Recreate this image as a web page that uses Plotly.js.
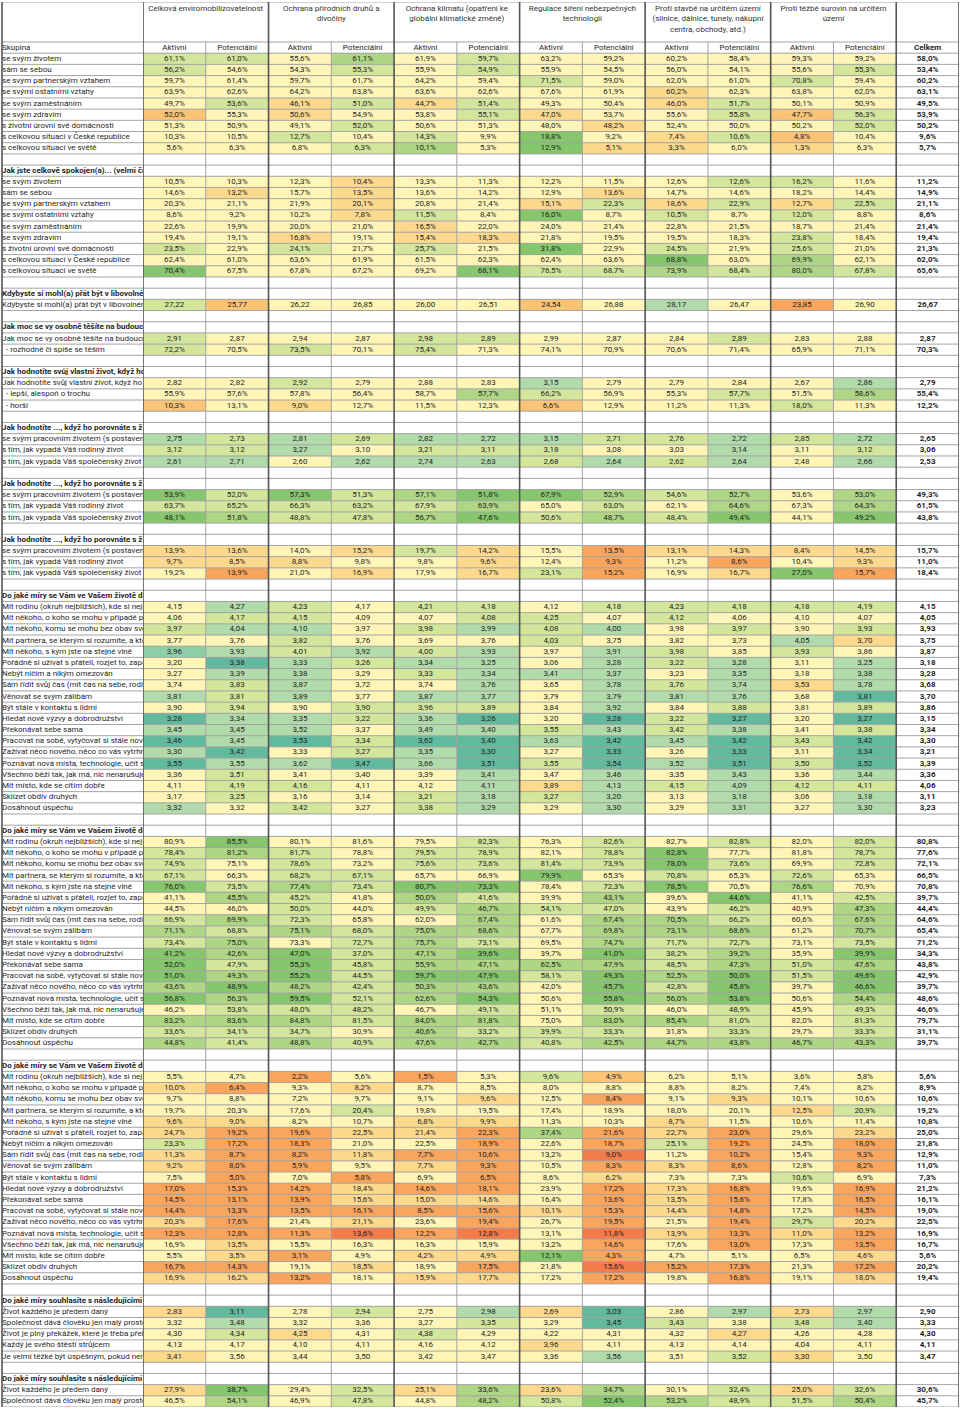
<!DOCTYPE html>
<html><head><meta charset="utf-8">
<script src="https://cdn.plot.ly/plotly-3.0.1.min.js"></script>
<style>html,body{margin:0;padding:0;background:#fff}#chart{width:960px;height:1411px}#err{position:absolute;top:0;left:0;font:12px monospace;color:red;white-space:pre}</style>
</head><body><div id="chart"></div><div id="err"></div><script>
// ---------- header texts ----------
const groupNames = [
  "Celková enviromobilizovatelnost",
  "Ochrana přírodních druhů a<br>divočiny",
  "Ochrana klimatu (opatření ke<br>globální klimatické změně)",
  "Regulace šíření nebezpečných<br>technologií",
  "Proti stavbě na určitém území<br>(silnice, dálnice, tunely, nákupní<br>centra, obchody, atd.)",
  "Proti těžbě surovin na určitém<br>území"
];
const subHeads = ["Aktivní", "Potenciální"];
const firstColHead = "Skupina";
const totalHead = "Celkem";

// ---------- row labels ----------
const satisfLabels = ["se svým životem","sám se sebou","se svým partnerským vztahem","se svými ostatními vztahy","se svým zaměstnáním","se svým zdravím","s životní úrovní své domácnosti","s celkovou situací v České republice","s celkovou situací ve světě"];
const hdrSatisf = "Jak jste celkově spokojen(a)... (velmi či spíše nespokojen)";
const hdrAge = "Kdybyste si mohl(a) přát být v libovolném věku";
const ageLabels = ["Kdybyste si mohl(a) přát být v libovolném věku"];
const hdrFuture = "Jak moc se vy osobně těšíte na budoucnost";
const futureLabels = ["Jak moc se vy osobně těšíte na budoucnost", "  - rozhodně či spíše se těším"];
const hdrOwn = "Jak hodnotíte svůj vlastní život, když ho porovnáte";
const ownLabels = ["Jak hodnotíte svůj vlastní život, když ho porovnáte", "  - lepší, alespoň o trochu", "  - horší"];
const hdrCompare = "Jak hodnotíte ..., když ho porovnáte s životem";
const compareLabels = ["se svým pracovním životem (s postavením)", "s tím, jak vypadá Váš rodinný život", "s tím, jak vypadá Váš společenský život"];
const hdrLife = "Do jaké míry se Vám ve Vašem životě daří";
const lifeLabels = ["Mít rodinu (okruh nejbližších), kde si nejste sám","Mít někoho, o koho se mohu v případě potřeby opřít","Mít někoho, komu se mohu bez obav svěřit","Mít partnera, se kterým si rozumíte, a kterého","Mít někoho, s kým jste na stejné vlně","Pořádně si užívat s přáteli, rozjet to, zapařit","Nebýt ničím a nikým omezován","Sám řídit svůj čas (mít čas na sebe, rodinu)","Věnovat se svým zálibám","Být stále v kontaktu s lidmi","Hledat nové výzvy a dobrodružství","Překonávat sebe sama","Pracovat na sobě, vytyčovat si stále nové cíle","Zažívat něco nového, něco co vás vytrhne","Poznávat nová místa, technologie, učit se","Všechno běží tak, jak má, nic nenarušuje","Mít místo, kde se cítím dobře","Sklízet obdiv druhých","Dosáhnout úspěchu"];
const hdrAgree = "Do jaké míry souhlasíte s následujícími výroky";
const agreeLabels = ["Život každého je předem daný","Společnost dává člověku jen malý prostor","Život je plný překážek, které je třeba překonat","Každý je svého štěstí strůjcem","Je velmi těžké být úspěšným, pokud nemáte"];

// ---------- values (12 group columns + Celkem) ----------
const satisfVals = [
 [61.1,61.0,55.6,61.1,61.9,59.7,63.2,59.2,60.2,58.4,59.3,59.2,58.0],
 [56.2,54.6,54.3,55.3,55.9,54.9,55.9,54.5,56.0,54.1,55.6,55.3,53.4],
 [59.7,61.4,59.7,61.7,64.2,59.4,71.5,59.0,62.0,61.0,70.8,59.4,60.2],
 [63.9,62.6,64.2,63.8,63.6,62.6,67.6,61.9,60.2,62.3,63.8,62.0,63.1],
 [49.7,53.6,46.1,51.0,44.7,51.4,49.3,50.4,46.0,51.7,50.1,50.9,49.5],
 [52.0,55.3,50.6,54.9,53.8,55.1,47.0,53.7,55.6,55.8,47.7,56.3,53.9],
 [51.3,50.9,49.1,52.0,50.6,51.3,48.0,48.2,52.4,50.0,50.2,52.0,50.2],
 [10.3,10.5,12.7,10.4,14.3,9.9,18.8,9.2,7.4,10.6,4.8,10.4,9.6],
 [5.6,6.3,6.8,6.3,10.1,5.3,12.9,5.1,3.3,6.0,1.3,6.3,5.7]
];
const satisfCodes = ["bbycybyyyyyy","byybybyyyyyb","yyyyyybyyyby","yyyyyyyyoyyy","ybobobyyobyy","pyoyyboyybpb","yyybyyyoyyyb","yybybydyobpy","yyybcydooyoy"];

const dissatVals = [
 [10.5,10.3,12.3,10.4,13.3,11.3,12.2,11.5,12.6,12.6,16.2,11.6,11.2],
 [14.6,13.2,15.7,13.5,13.6,14.2,12.9,13.6,14.7,14.6,18.2,14.4,14.9],
 [20.3,21.1,21.9,20.1,20.8,21.4,15.1,22.3,18.6,22.9,12.7,22.5,21.1],
 [8.6,9.2,10.2,7.8,11.5,8.4,16.0,8.7,10.5,8.7,12.0,8.8,8.6],
 [22.6,19.9,20.0,21.0,16.5,22.0,24.0,21.4,22.8,21.5,18.7,21.4,21.4],
 [19.4,19.1,16.8,19.1,15.4,18.3,21.8,19.5,19.5,18.3,23.8,18.4,19.4],
 [23.5,22.9,24.1,21.7,25.7,21.5,31.8,22.9,24.5,21.9,25.6,21.0,21.3],
 [62.4,61.0,63.6,61.9,61.5,62.3,62.4,63.6,68.8,63.0,69.9,62.1,62.0],
 [70.4,67.5,67.8,67.2,69.2,68.1,76.5,68.7,73.9,68.4,80.0,67.8,65.6]
];
const dissatCodes = ["yyyoyyyyybby","yoyoyyyoyyyy","yyyoyyobobob","yyyobydybyby","yyyyoyyyyyyy","yyoyooyyyyby","bybybydybyby","yyyyyyyydycy","dyyyydbbcbcb"];

const ageVals = [[27.22,25.77,26.22,26.85,26.00,26.51,24.54,26.88,28.17,26.47,23.85,26.90,26.67]];
const ageCodes = ["bpyyyypysyqy"];

const futureVals = [
 [2.91,2.87,2.94,2.87,2.98,2.89,2.99,2.87,2.84,2.89,2.83,2.88,2.87],
 [72.2,70.5,73.5,70.1,75.4,71.3,74.1,70.9,70.6,71.4,65.9,71.1,70.3]
];
const futureCodes = ["byyybbyyybyy","bybybyyyyyyy"];

const ownVals = [
 [2.82,2.82,2.92,2.79,2.88,2.83,3.15,2.79,2.79,2.84,2.67,2.86,2.79],
 [55.9,57.6,57.8,56.4,58.7,57.7,66.2,56.9,55.3,57.7,51.5,58.6,55.4],
 [10.3,13.1,9.0,12.7,11.5,12.3,6.6,12.9,11.2,11.3,18.0,11.3,12.2]
];
const ownCodes = ["yybyyysyyyys","yyyyycbyybyc","pyoyyypyyyby"];

const cmpMeanVals = [
 [2.75,2.73,2.81,2.69,2.82,2.72,3.15,2.71,2.76,2.72,2.85,2.72,2.65],
 [3.12,3.12,3.27,3.10,3.21,3.11,3.18,3.08,3.03,3.14,3.11,3.12,3.06],
 [2.61,2.71,2.60,2.62,2.74,2.63,2.68,2.64,2.62,2.64,2.48,2.66,2.53]
];
const cmpMeanCodes = ["sbsbsssbbsbs","bbsybbbyysyb","ssysssbsbsys"];

const cmpBetterVals = [
 [53.9,52.0,57.3,51.3,57.1,51.8,67.9,52.9,54.6,52.7,53.6,53.0,49.3],
 [63.7,65.2,66.3,63.2,67.9,63.9,65.0,63.0,62.1,64.6,67.3,64.3,61.5],
 [48.1,51.8,48.8,47.8,56.7,47.6,50.6,48.7,48.4,49.4,44.1,49.2,43.8]
];
const cmpBetterCodes = ["dbdbcddcbcyc","bbbbbcybycyc","dcbbcdbcbdyd"];

const cmpWorseVals = [
 [13.9,13.6,14.0,15.2,19.7,14.2,15.5,13.5,13.1,14.3,8.4,14.5,15.7],
 [9.7,8.5,8.8,9.8,9.8,9.6,12.4,9.3,11.2,8.6,10.4,9.3,11.0],
 [19.2,13.9,21.0,16.9,17.9,16.7,23.1,15.2,16.9,16.7,27.0,15.7,18.4]
];
const cmpWorseCodes = ["ooyoboyqoooo","oooyyoyqyqyo","yqyoyobqyodq"];

const lifeMeanVals = [
 [4.15,4.27,4.23,4.17,4.21,4.18,4.12,4.18,4.23,4.18,4.18,4.19,4.15],
 [4.06,4.17,4.15,4.09,4.07,4.08,4.25,4.07,4.12,4.06,4.10,4.07,4.05],
 [3.97,4.04,4.10,3.97,3.98,3.99,4.08,4.00,3.98,3.97,3.90,3.93,3.93],
 [3.77,3.76,3.82,3.76,3.69,3.76,4.03,3.75,3.82,3.73,4.05,3.70,3.75],
 [3.96,3.93,4.01,3.92,4.00,3.93,3.97,3.91,3.98,3.85,3.93,3.86,3.87],
 [3.20,3.38,3.33,3.26,3.34,3.25,3.06,3.28,3.22,3.28,3.11,3.25,3.18],
 [3.27,3.39,3.38,3.29,3.33,3.34,3.41,3.37,3.23,3.35,3.18,3.38,3.28],
 [3.74,3.83,3.87,3.72,3.74,3.76,3.65,3.78,3.76,3.74,3.53,3.78,3.68],
 [3.81,3.81,3.89,3.77,3.87,3.77,3.79,3.79,3.81,3.76,3.68,3.81,3.70],
 [3.90,3.94,3.90,3.90,3.96,3.89,3.84,3.92,3.84,3.88,3.81,3.89,3.86],
 [3.28,3.34,3.35,3.22,3.36,3.26,3.20,3.28,3.22,3.27,3.20,3.27,3.15],
 [3.45,3.45,3.52,3.37,3.49,3.40,3.55,3.43,3.42,3.38,3.41,3.38,3.34],
 [3.46,3.45,3.53,3.34,3.62,3.40,3.63,3.42,3.45,3.42,3.43,3.42,3.30],
 [3.30,3.42,3.33,3.27,3.35,3.30,3.27,3.33,3.26,3.33,3.11,3.34,3.21],
 [3.55,3.55,3.62,3.47,3.66,3.51,3.55,3.54,3.52,3.51,3.50,3.52,3.39],
 [3.36,3.51,3.41,3.40,3.39,3.41,3.47,3.46,3.35,3.43,3.36,3.44,3.36],
 [4.11,4.19,4.16,4.11,4.12,4.11,3.89,4.13,4.15,4.09,4.12,4.11,4.06],
 [3.17,3.25,3.16,3.14,3.21,3.18,3.27,3.20,3.13,3.18,3.06,3.18,3.11],
 [3.32,3.32,3.42,3.27,3.38,3.29,3.29,3.30,3.29,3.31,3.27,3.30,3.23]
];
const lifeMeanCodes = ["ysbybbybbbbb","ybbyybbybyyy","bssybsbsybyb","yybyyybyyyso","tsbsbsysbyby","yusbssysbsys","yssybsssysys","ybsyysysbsos","sbsyssysssyu","ybybbbysybyb","ussbsuyubuyu","sssyssbsbsyb","usubuususubu","suybsuyuyuyu","ussusubusubu","ybyyysysysys","ybbyysosbsbb","ybyybsbsysys","sybybsysysys"];

const lifeYesVals = [
 [80.9,85.5,80.1,81.6,79.5,82.3,76.3,82.6,82.7,82.8,82.0,82.0,80.8],
 [78.4,81.2,81.7,78.8,79.5,78.9,82.1,78.8,82.8,77.7,81.8,78.7,77.6],
 [74.9,75.1,78.6,73.2,75.6,73.6,81.4,73.9,78.0,73.6,69.9,72.8,72.1],
 [67.1,66.3,68.2,67.1,65.7,66.9,79.9,65.3,70.8,65.3,72.6,65.3,66.5],
 [76.0,73.5,77.4,73.4,80.7,73.3,78.4,72.3,78.5,70.5,76.6,70.9,70.8],
 [41.1,45.5,45.2,41.8,50.0,41.6,39.9,43.1,39.6,44.6,41.1,42.5,39.7],
 [44.5,46.0,50.0,44.0,49.9,46.7,54.1,47.0,43.9,46.2,40.9,47.3,44.4],
 [66.9,69.9,72.3,65.8,62.0,67.4,61.6,67.4,70.5,66.2,60.6,67.6,64.6],
 [71.1,68.8,75.1,68.0,75.0,68.6,67.7,69.8,73.1,68.6,61.2,70.7,65.4],
 [73.4,75.0,73.3,72.7,75.7,73.1,69.5,74.7,71.7,72.7,73.1,73.5,71.2],
 [41.2,42.6,47.0,37.0,47.1,39.6,39.7,41.0,38.2,39.2,35.9,39.9,34.3],
 [52.0,47.9,55.3,45.8,55.9,47.1,62.5,47.9,48.5,47.3,51.0,47.6,43.8],
 [51.0,49.3,55.2,44.5,59.7,47.9,58.1,49.3,52.5,50.0,51.5,49.6,42.9],
 [43.6,48.9,48.2,42.4,50.3,43.6,42.0,45.7,42.8,45.8,39.7,46.6,39.7],
 [56.8,56.3,59.5,52.1,62.6,54.3,50.6,55.8,56.0,53.8,50.6,54.4,48.6],
 [46.2,53.8,48.0,48.2,46.7,49.1,51.1,50.9,46.0,48.9,45.9,49.3,46.6],
 [83.2,83.6,84.8,81.5,84.0,81.8,75.0,83.0,85.4,81.0,82.0,81.3,79.7],
 [33.6,34.1,34.7,30.9,40.6,33.2,39.9,33.3,31.8,33.3,29.7,33.3,31.1],
 [44.8,41.4,48.8,40.9,47.6,42.7,40.8,42.5,44.7,43.8,46.7,43.3,39.7]
];
const lifeYesCodes = ["ydyyybybybyb","bcbybbybdyyb","bybybbbbdbyb","bybbyydybyby","dbcbddybdycy","ycbycbycydyb","yybybcbbybyc","bcbyycyccbyc","cbcbccycccyc","bcybcbycbbyb","dcdbcdydbcyd","dbdbccccbcbc","dcdbddbdcdbd","cdcbccydbdyd","dcdbcdydcdyc","ybbbybybybyb","cccbccyccbyb","bbbycbbbybyb","cbcbccbccccc"];

const lifeNoVals = [
 [5.5,4.7,2.2,5.6,1.5,5.3,9.6,4.9,6.2,5.1,3.6,5.8,5.6],
 [10.0,6.4,9.3,8.2,8.7,8.5,8.0,8.8,8.8,8.2,7.4,8.2,8.9],
 [9.7,8.8,7.2,9.7,9.1,9.6,12.5,8.4,9.1,9.3,10.1,10.6,10.6],
 [19.7,20.3,17.6,20.4,19.8,19.5,17.4,18.9,18.0,20.1,12.5,20.9,19.2],
 [9.6,9.0,8.2,10.7,6.8,9.9,11.3,10.3,8.7,11.5,10.6,11.4,10.8],
 [24.7,19.2,19.6,22.5,21.4,22.3,37.4,21.6,22.7,23.0,29.6,23.2,25.0],
 [23.3,17.2,18.3,21.0,22.5,18.9,22.6,18.7,25.1,19.2,24.5,18.0,21.8],
 [11.3,8.7,8.2,11.8,7.7,10.6,13.2,9.0,11.2,10.2,15.4,9.3,12.9],
 [9.2,8.0,5.9,9.5,7.7,9.3,10.5,8.3,8.3,8.6,12.8,8.2,11.0],
 [7.5,5.0,7.0,5.8,6.9,6.5,8.6,6.2,7.3,7.3,10.6,6.9,7.3],
 [17.0,15.3,14.2,18.4,14.6,18.1,23.9,17.2,17.3,16.8,19.6,16.9,21.2],
 [14.5,13.1,13.9,15.6,15.0,14.6,16.4,13.6,13.5,15.6,17.8,16.5,16.1],
 [14.4,13.3,13.5,16.1,8.5,15.6,10.1,15.3,14.4,14.8,17.2,14.5,19.0],
 [20.3,17.6,21.4,21.1,23.6,19.4,26.7,19.5,21.5,19.4,29.7,20.2,22.5],
 [12.3,12.8,11.3,13.6,12.2,12.8,13.1,11.8,13.9,13.3,11.0,13.2,16.9],
 [16.9,13.5,15.5,16.3,16.3,15.9,13.2,14.6,17.6,13.0,17.3,13.5,16.7],
 [5.5,3.5,3.1,4.9,4.2,4.9,12.1,4.3,4.7,5.1,6.5,4.6,5.6],
 [16.7,14.3,19.1,18.5,18.9,17.5,21.8,15.6,15.2,17.3,21.3,17.2,20.2],
 [16.9,16.2,13.2,18.1,15.9,17.7,17.2,17.2,19.8,16.8,19.1,18.0,19.4]
];
const lifeNoCodes = ["yyqyqybpyyyy","oqyoyyyyyyyy","yyyyyoyqyoyy","yyybyyyyyyob","ooyyooyyoyyy","oqqooqcqoqyo","bqqyyqyqbqyq","oqqoqqyryqyq","oqqyoqyqoqyq","yqyqyqyoyyby","qqqoqqyqoqyq","qqqoooyqoqyq","qqqqqqoqoqyq","oqyoyqyqyqbo","qqqrqryroqoq","yoyyyyyqyqyq","yoqyoodqyyyo","qqyoyqyrqqyq","ooqyooyqyqyo"];

const agreeMeanVals = [
 [2.83,3.11,2.78,2.94,2.75,2.98,2.69,3.03,2.86,2.97,2.73,2.97,2.90],
 [3.32,3.48,3.32,3.36,3.27,3.35,3.29,3.45,3.43,3.38,3.48,3.40,3.33],
 [4.30,4.34,4.25,4.31,4.38,4.29,4.22,4.31,4.32,4.27,4.26,4.28,4.30],
 [4.13,4.17,4.10,4.11,4.16,4.12,3.96,4.11,4.13,4.14,4.04,4.11,4.11],
 [3.41,3.56,3.44,3.50,3.42,3.47,3.36,3.56,3.51,3.52,3.30,3.50,3.47]
];
const agreeMeanCodes = ["ouybysouysos","ysyyybyubybs","yboybyyyyoyy","yyyyyyoyyyyy","oyyyyyysyboy"];

const agreePctVals = [
 [27.9,38.7,29.4,32.5,25.1,33.6,23.6,34.7,30.1,32.4,25.0,32.6,30.6],
 [46.5,54.1,46.9,47.8,44.8,48.2,50.8,52.4,53.2,48.9,51.5,50.4,45.7]
];
const agreePctCodes = ["odybococybob","ycybycbdcbbc"];

// conditional-format colour categories
const codeKeys = "wybcdstuopqr";
const codeColors = ["#FFFFFF","#FEF5B7","#D3E69C","#AFD684","#86C66C","#B2DBAB","#8ECEA7","#62BA9E","#FDD98E","#FBC475","#F9A55E","#F37B4C"];

try {
const blocks = [
  {head: null,       labels: satisfLabels,  fmt: "ppppppppp", vals: satisfVals,   codes: satisfCodes},
  {head: hdrSatisf,  labels: satisfLabels,  fmt: "ppppppppp", vals: dissatVals,   codes: dissatCodes},
  {head: hdrAge,     labels: ageLabels,     fmt: "n",         vals: ageVals,      codes: ageCodes},
  {head: hdrFuture,  labels: futureLabels,  fmt: "np",        vals: futureVals,   codes: futureCodes},
  {head: hdrOwn,     labels: ownLabels,     fmt: "npp",       vals: ownVals,      codes: ownCodes},
  {head: hdrCompare, labels: compareLabels, fmt: "nnn",       vals: cmpMeanVals,  codes: cmpMeanCodes},
  {head: hdrCompare, labels: compareLabels, fmt: "ppp",       vals: cmpBetterVals,codes: cmpBetterCodes},
  {head: hdrCompare, labels: compareLabels, fmt: "ppp",       vals: cmpWorseVals, codes: cmpWorseCodes},
  {head: hdrLife,    labels: lifeLabels,    fmt: "n".repeat(19), vals: lifeMeanVals, codes: lifeMeanCodes},
  {head: hdrLife,    labels: lifeLabels,    fmt: "p".repeat(19), vals: lifeYesVals,  codes: lifeYesCodes},
  {head: hdrLife,    labels: lifeLabels,    fmt: "p".repeat(19), vals: lifeNoVals,   codes: lifeNoCodes},
  {head: hdrAgree,   labels: agreeLabels,   fmt: "nnnnn",     vals: agreeMeanVals,codes: agreeMeanCodes},
  {head: hdrAgree,   labels: agreeLabels.slice(0, 2), fmt: "pp", vals: agreePctVals, codes: agreePctCodes}
];

// ---------- build rows ----------
const NC = 13;
const rows = [{label: firstColHead, bold: false, kind: "head0"}];
blocks.forEach((b, bi) => {
  if (bi > 0) rows.push({label: "", kind: "blank"});
  if (b.head) rows.push({label: b.head, bold: true, kind: "sect"});
  b.labels.forEach((lab, i) => rows.push({label: lab, bold: false, kind: "data", vals: b.vals[i], codes: b.codes[i], fmt: b.fmt[i]}));
});
const NR = rows.length;
const fmtVal = (v, f) => f === "p" ? v.toFixed(1).replace(".", ",") + "%" : v.toFixed(2).replace(".", ",");

const z = [], tx = [], ty = [], tt = [];
const lx = [], ly = [], lt = [];
rows.forEach((r, ri) => {
  const zr = [];
  for (let c = 0; c < NC; c++) {
    let code = "w";
    if (r.kind === "data" && c < 12) code = r.codes[c];
    zr.push(Math.max(0, codeKeys.indexOf(code)));
    if (r.kind === "data") {
      const s = fmtVal(r.vals[c], r.fmt);
      tx.push(c); ty.push(ri); tt.push(c === 12 ? "<b>" + s + "</b>" : s);
    } else if (r.kind === "head0") {
      tx.push(c); ty.push(ri); tt.push(c === 12 ? "<b>" + totalHead + "</b>" : subHeads[c % 2]);
    }
  }
  z.push(zr);
  if (r.label) { lx.push(0); ly.push(ri); lt.push(r.bold ? "<b>" + r.label + "</b>" : r.label); }
});

// geometry
const W = 960, H = 1411;
const leftEdge = 2, labelRight = 143, rightEdge = 959;
const headerPx = 40;
const plotTop = 2, plotBottom = 1406.6;
const unitPx = (plotBottom - plotTop) / (NR + headerPx / 11.185);
const yTop = -0.5 - headerPx / unitPx;

const FONT = "Roboto, 'Liberation Sans', sans-serif";
const TXT = "#1f1f1f";

const colIdx = [...Array(NC).keys()];
const rowIdx = [...Array(NR).keys()];
const traces = [
  {type: "heatmap", x: colIdx, y: rowIdx, z: z,
   zmin: 0, zmax: codeColors.length - 1,
   colorscale: codeColors.map((c, i) => [i / (codeColors.length - 1), c]),
   showscale: false, hoverinfo: "skip", xaxis: "x", yaxis: "y"},
  {type: "scatter", mode: "text", x: tx, y: ty, text: tt, textposition: "middle center",
   textfont: {family: FONT, size: 8, color: TXT}, hoverinfo: "skip", cliponaxis: false, xaxis: "x", yaxis: "y"},
  {type: "scatter", mode: "text", x: lx, y: ly, text: lt, textposition: "middle right",
   textfont: {family: FONT, size: 8, color: TXT}, hoverinfo: "skip", cliponaxis: true, xaxis: "x2", yaxis: "y"},
  {type: "scatter", mode: "text", x: groupNames.map((g, i) => 2 * i + 0.5), y: groupNames.map(() => yTop + 0.25),
   text: groupNames, textposition: "bottom center",
   textfont: {family: FONT, size: 8, color: "#333"}, hoverinfo: "skip", cliponaxis: false, xaxis: "x", yaxis: "y"}
];

// grid lines
const shapes = [];
const gridThin = {color: "#A3A3A3", width: 1};
const gridThick = {color: "#555555", width: 1.6};
shapes.push({type: "line", xref: "paper", yref: "y", x0: leftEdge / W, x1: rightEdge / W, y0: yTop, y1: yTop, line: gridThin, layer: "above"});
for (let k = 0; k <= NR; k++) {
  shapes.push({type: "line", xref: "paper", yref: "y", x0: leftEdge / W, x1: rightEdge / W, y0: k - 0.5, y1: k - 0.5, line: gridThin, layer: "above"});
}
for (let c = 0; c < 12; c += 2) {
  shapes.push({type: "line", xref: "x", yref: "y", x0: c + 0.5, x1: c + 0.5, y0: -0.5, y1: NR - 0.5, line: gridThin, layer: "above"});
}
for (let c = -1; c < 12; c += 2) {
  shapes.push({type: "line", xref: "x", yref: "y", x0: c + 0.5, x1: c + 0.5, y0: yTop, y1: NR - 0.5, line: gridThick, layer: "above"});
}
shapes.push({type: "line", xref: "x", yref: "y", x0: 12.5, x1: 12.5, y0: yTop, y1: NR - 0.5, line: gridThick, layer: "above"});
shapes.push({type: "line", xref: "paper", yref: "y", x0: leftEdge / W, x1: leftEdge / W, y0: yTop, y1: NR - 0.5, line: gridThick, layer: "above"});

const layout = {
  width: W, height: H, margin: {l: 0, r: 0, t: plotTop, b: H - plotBottom, pad: 0},
  paper_bgcolor: "#fff", plot_bgcolor: "#fff", showlegend: false,
  xaxis: {domain: [labelRight / W, rightEdge / W], range: [-0.5, 12.5], visible: false, fixedrange: true},
  xaxis2: {domain: [leftEdge / W, labelRight / W], range: [0, 1], visible: false, fixedrange: true, anchor: "y"},
  yaxis: {range: [NR - 0.5, yTop], visible: false, fixedrange: true},
  shapes: shapes
};
Plotly.newPlot("chart", traces, layout, {displayModeBar: false}).catch(e => {
  document.getElementById("err").textContent = "ASYNC " + e.stack;
});
} catch (e) {
  document.getElementById("err").textContent = e.stack;
}
</script></body></html>
